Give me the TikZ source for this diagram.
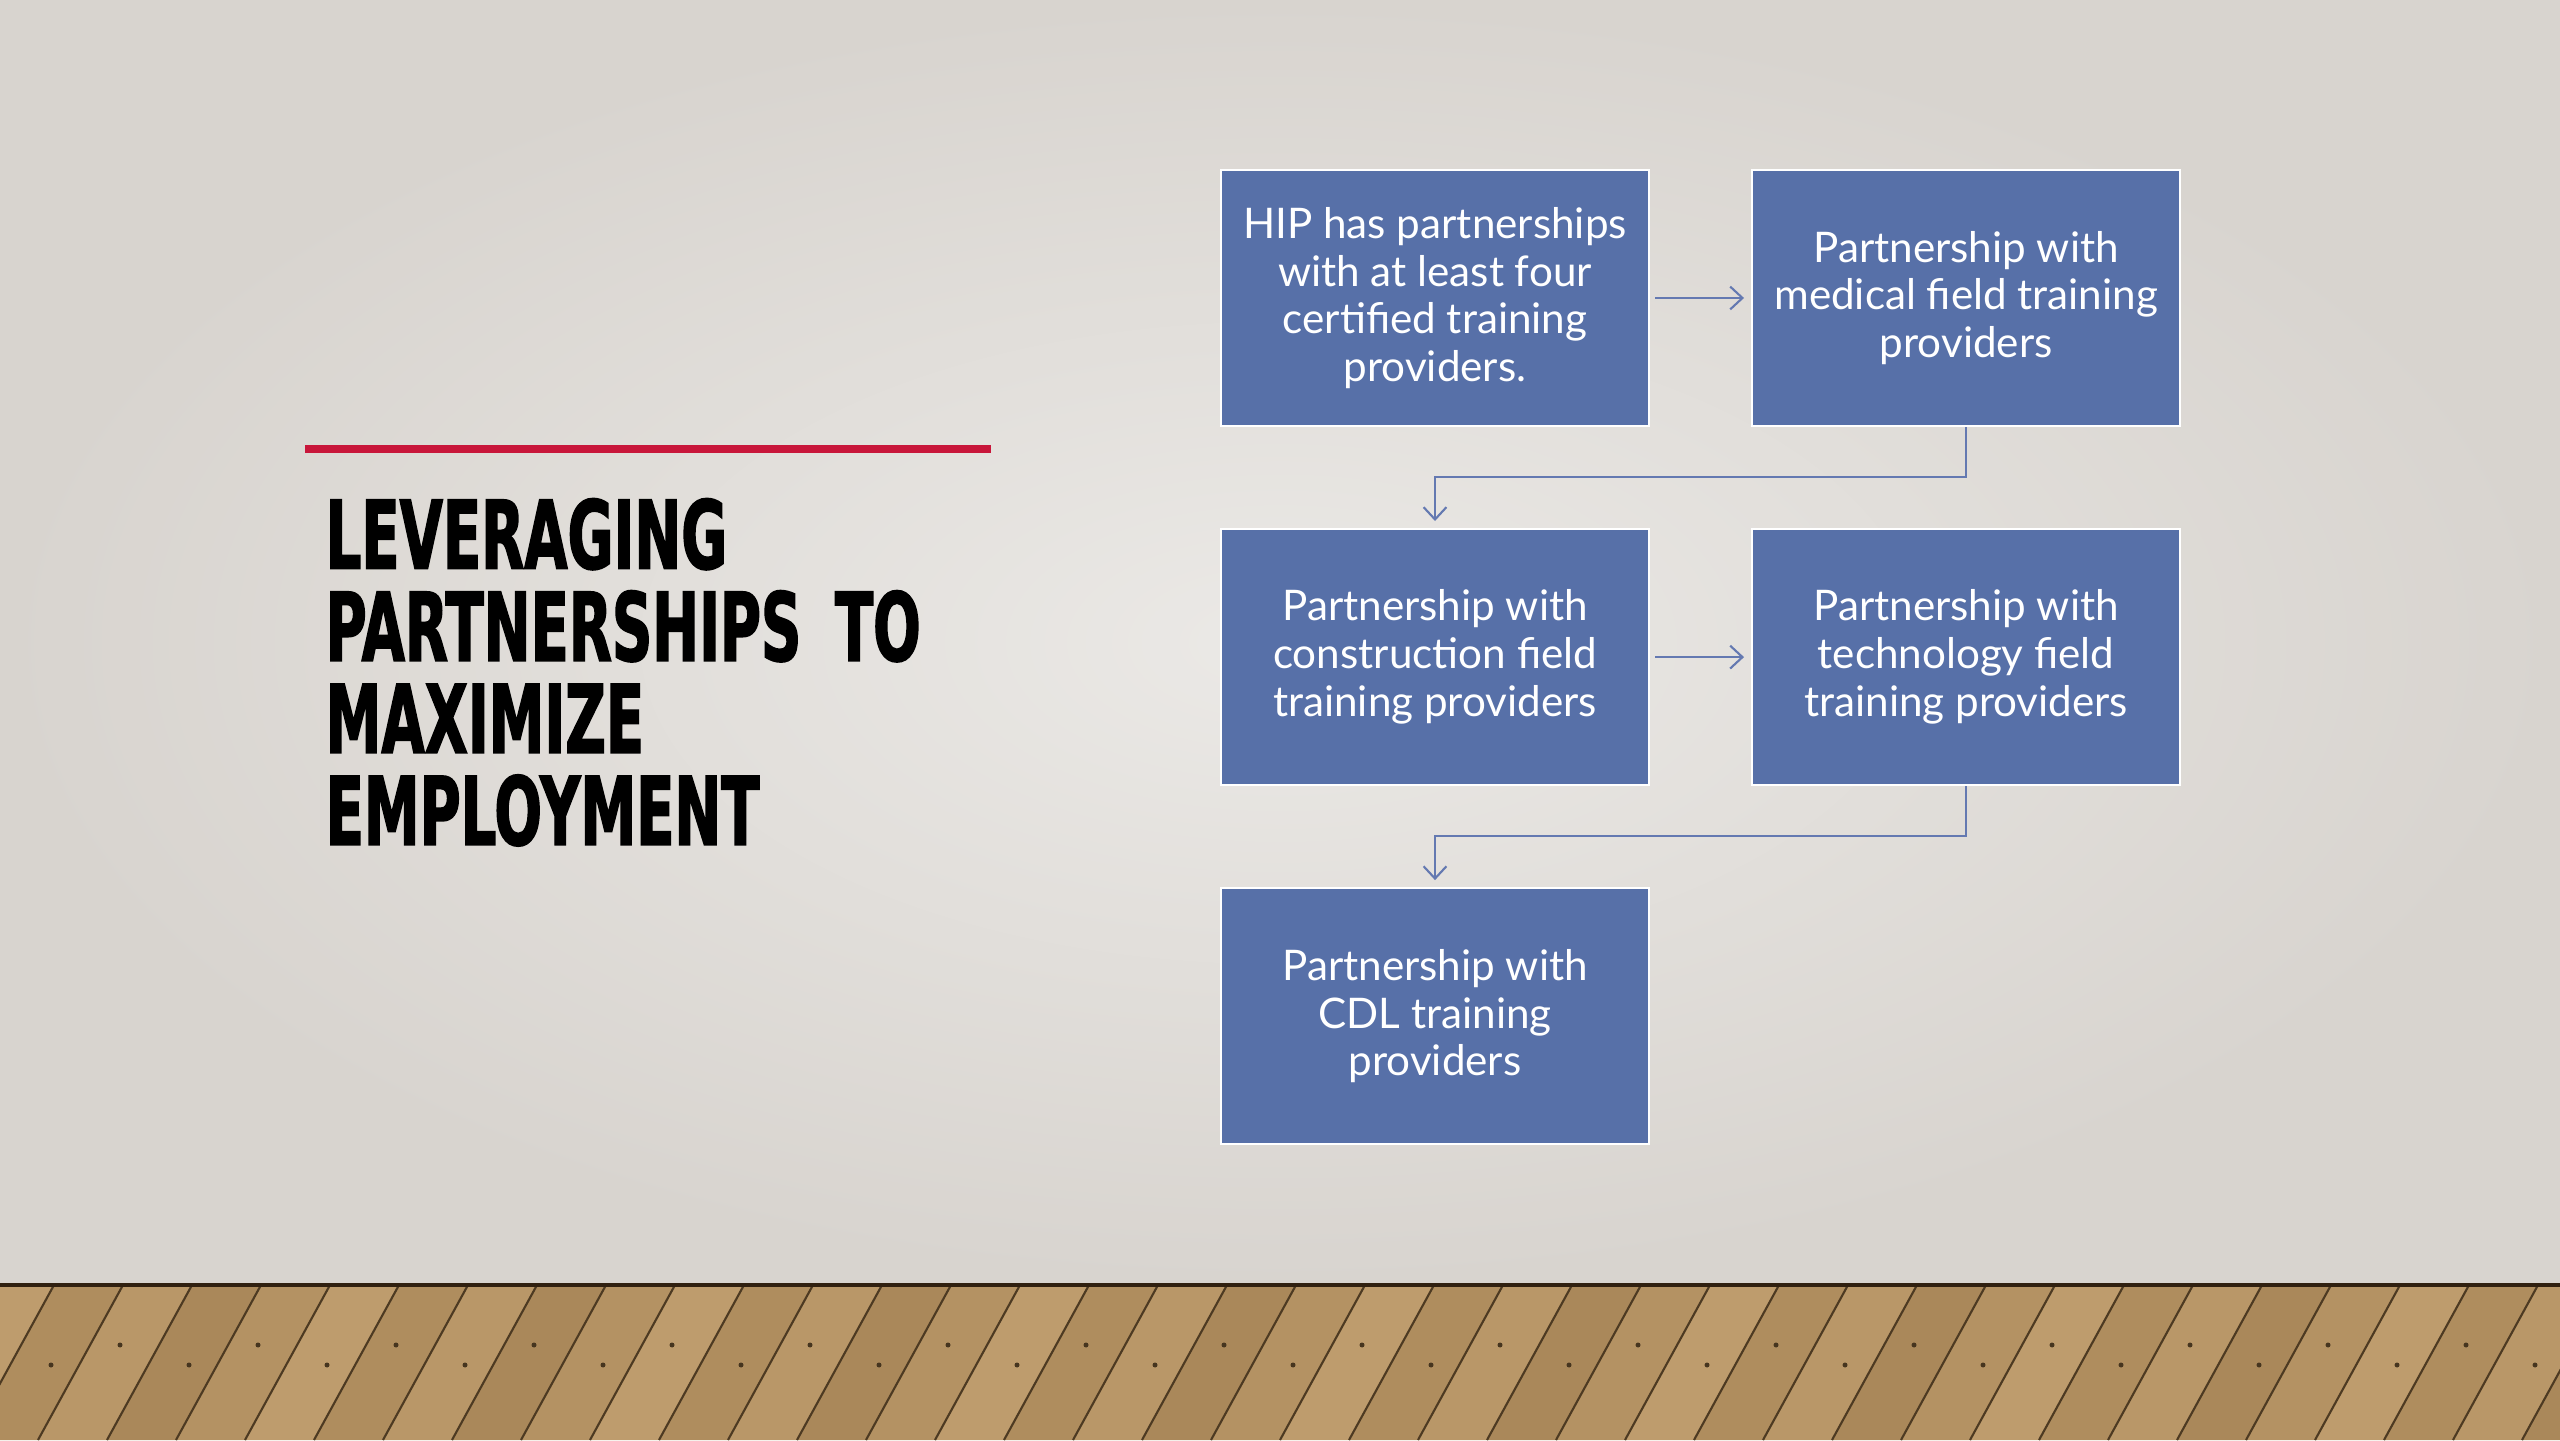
\documentclass[tikz,border=0pt]{standalone}
\usepackage{fontspec}
\setmainfont{Lato}
\newfontfamily\titlefont{DejaVu Sans}[FakeStretch=0.59, FakeBold=1.5]
\usetikzlibrary{arrows.meta,positioning}
\definecolor{boxblue}{HTML}{5770A8}
\definecolor{linkblue}{HTML}{6479B1}
\definecolor{rulered}{HTML}{C8163A}
\definecolor{wallhi}{HTML}{EBE9E6}
\definecolor{walllo}{HTML}{D8D4CF}
\definecolor{wooddark}{HTML}{8C693D}
\definecolor{woodlight}{HTML}{C4A272}

\begin{document}
\begin{tikzpicture}[
    partner/.style={draw=white, line width=0.6pt, fill=boxblue, text=white, align=center,
      font=\fontsize{12}{13.6}\selectfont, minimum width=4.28cm, minimum height=2.56cm, inner sep=2pt},
    heading/.style={font=\titlefont\bfseries\fontsize{27}{26.2}\selectfont, align=left, inner sep=0pt},
    link/.style={draw=linkblue, line width=0.6pt, -{Straight Barb[length=3.5pt,width=6.5pt]},
      shorten <=1.5pt, shorten >=2pt},
    node distance=1.01cm
  ]
  \useasboundingbox (0,0) rectangle (25.6,14.4);

  % Wall and floor
  \shade[inner color=wallhi, outer color=walllo] (0,1.55) rectangle (25.6,14.4);
  \begin{scope}
    \clip (0,0) rectangle (25.6,1.55);
    \fill[woodlight] (0,0) rectangle (25.6,1.55);
    \foreach \i in {0,...,39}{
      \pgfmathtruncatemacro\mix{10+9*mod(\i*3,5)}
      \fill[wooddark!\mix!woodlight] ({-1+\i*0.69},0) -- ++(0.69,0) -- ++(0.85,1.55) -- ++(-0.69,0) -- cycle;
      \draw[wooddark!55!black, line width=0.6pt] ({-1+\i*0.69},0) -- ++(0.85,1.55);
      \fill[wooddark!50!black] ({-1+\i*0.69+0.52+0.3},{0.95-0.2*mod(\i,2)}) circle (0.025);
    }
  \end{scope}
  \draw[black!75!brown, line width=1.2pt] (0,1.55) -- (25.6,1.55);

  % Title
  \draw[rulered, line width=2pt] (3.05,9.91) -- (9.91,9.91);
  \node[heading, anchor=base west] (title) at (3.25,5.95) {LEVERAGING\\PARTNERSHIPS\hspace{0.15em} TO\\MAXIMIZE\\EMPLOYMENT};

  % Partner boxes
  \node[partner] (hip) at (14.35,11.42) {HIP has partnerships\\with at least four\\certified training\\providers.};
  \node[partner, right=of hip] (medical) {Partnership with\\medical field training\\providers};
  \node[partner, below=of hip] (construction) {Partnership with\\construction field\\training providers};
  \node[partner, right=of construction] (technology) {Partnership with\\technology field\\training providers};
  \node[partner, below=of construction] (cdl) {Partnership with\\CDL training\\providers};

  % Links
  \draw[link] (hip) -- (medical);
  \draw[link, shorten <=0pt] (medical.south) -- ++(0,-0.5) -| (construction.north);
  \draw[link] (construction) -- (technology);
  \draw[link, shorten <=0pt] (technology.south) -- ++(0,-0.5) -| (cdl.north);
\end{tikzpicture}
\end{document}
